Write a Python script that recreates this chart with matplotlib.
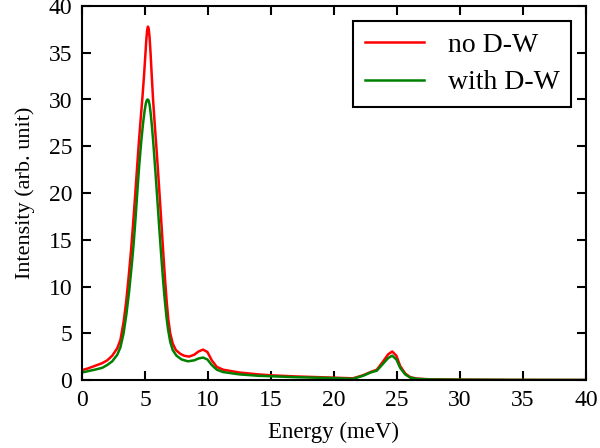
import numpy as np
import matplotlib
matplotlib.use("Agg")
import matplotlib.pyplot as plt

plt.rcParams['font.family'] = ['Liberation Serif', 'DejaVu Serif']

# --- datos ---
energy_no_dw = [0, 0.5, 1.0, 1.6, 2.0, 2.4, 2.8, 3.05, 3.3, 3.5, 3.7, 3.9, 4.05,
                4.2, 4.35, 4.5, 4.65, 4.8, 4.92, 5.02, 5.1, 5.17, 5.23, 5.29, 5.36,
                5.44, 5.53, 5.64, 5.77, 5.92, 6.07, 6.22, 6.36, 6.48, 6.6, 6.72,
                6.85, 7.0, 7.2, 7.45, 7.8, 8.1, 8.5, 8.9, 9.25, 9.6, 9.95, 10.3,
                10.7, 11.2, 12.5, 14, 15, 17, 20, 21.5, 22.3, 22.9, 23.4, 23.9,
                24.3, 24.62, 24.95, 25.25, 25.65, 26.05, 26.6, 27.5, 30, 34, 40]
intensity_no_dw = [1.05, 1.25, 1.5, 1.8, 2.1, 2.6, 3.4, 4.3, 6.2, 8.3, 11.0, 14.0, 16.6,
                   19.4, 22.3, 25.2, 27.8, 30.3, 32.5, 34.6, 36.3, 37.4, 37.8, 37.6, 36.7,
                   35.0, 32.7, 30.0, 27.4, 24.6, 21.6, 18.5, 15.5, 13.0, 10.6, 8.4,
                   6.5, 5.0, 3.9, 3.2, 2.8, 2.6, 2.5, 2.7, 3.05, 3.25, 3.0, 2.1,
                   1.4, 1.1, 0.8, 0.6, 0.5, 0.38, 0.25, 0.18, 0.5, 0.85, 1.1, 2.0,
                   2.75, 3.05, 2.6, 1.5, 0.7, 0.3, 0.15, 0.08, 0.04, 0.01, 0.0]

energy_dw = [0, 0.5, 1.0, 1.6, 2.0, 2.4, 2.8, 3.05, 3.3, 3.52, 3.75, 3.97, 4.1,
             4.25, 4.4, 4.55, 4.7, 4.85, 4.97, 5.07, 5.15, 5.22, 5.29, 5.37, 5.46,
             5.56, 5.68, 5.82, 5.96, 6.1, 6.24, 6.36, 6.47, 6.58, 6.7, 6.83,
             7.0, 7.2, 7.5, 7.9, 8.4, 8.9, 9.25, 9.6, 9.95, 10.3, 10.7, 11.2,
             12.5, 14, 15, 17, 20, 21.5, 22.3, 22.9, 23.4, 23.9, 24.3, 24.62,
             24.95, 25.25, 25.65, 26.05, 26.6, 27.5, 30, 34, 40]
intensity_dw = [0.8, 0.95, 1.1, 1.3, 1.6, 2.0, 2.7, 3.5, 5.0, 7.0, 9.6, 12.6, 14.6,
                17.3, 20.3, 23.1, 25.5, 27.5, 28.8, 29.6, 29.95, 30.0, 29.9, 29.4, 28.4,
                27.0, 25.0, 22.4, 19.7, 16.9, 14.2, 12.0, 10.1, 8.4, 6.8, 5.4,
                4.1, 3.2, 2.6, 2.2, 2.0, 2.1, 2.3, 2.4, 2.2, 1.6, 1.1, 0.85,
                0.6, 0.45, 0.4, 0.3, 0.2, 0.12, 0.45, 0.8, 1.0, 1.75, 2.35, 2.6,
                2.2, 1.3, 0.6, 0.25, 0.12, 0.06, 0.03, 0.01, 0.0]

labels = ["no D-W", "with D-W"]
x_ticks = [0, 5, 10, 15, 20, 25, 30, 35, 40]
y_ticks = [0, 5, 10, 15, 20, 25, 30, 35, 40]

fig = plt.figure(figsize=(6, 4.48), dpi=100)
ax = fig.add_axes([82 / 600, 68 / 448, 504 / 600, 374 / 448])

ax.plot(energy_no_dw, intensity_no_dw, color='#ff0000', lw=1.8, label=labels[0])
ax.plot(energy_dw, intensity_dw, color='#008000', lw=1.8, label=labels[1])

ax.set_xlim(0, 40)
ax.set_ylim(0, 40)
ax.set_xticks(x_ticks)
ax.set_yticks(y_ticks)
ax.tick_params(direction='in', top=True, right=True, length=6.5, width=1.5,
               labelsize=17, pad=7)
for side in ax.spines:
    ax.spines[side].set_linewidth(1.5)

ax.set_xlabel("Energy (meV)", fontsize=16.5, labelpad=8)
ax.set_ylabel("Intensity (arb. unit)", fontsize=16, labelpad=10)

leg = ax.legend(loc='upper right', bbox_to_anchor=(0.97, 0.96), fontsize=20,
                fancybox=False, edgecolor='black', framealpha=1,
                handlelength=2.15, handletextpad=0.85, labelspacing=0.45,
                borderpad=0.4, borderaxespad=0)
leg.get_frame().set_linewidth(1.5)

fig.savefig("out.png", dpi=100)
